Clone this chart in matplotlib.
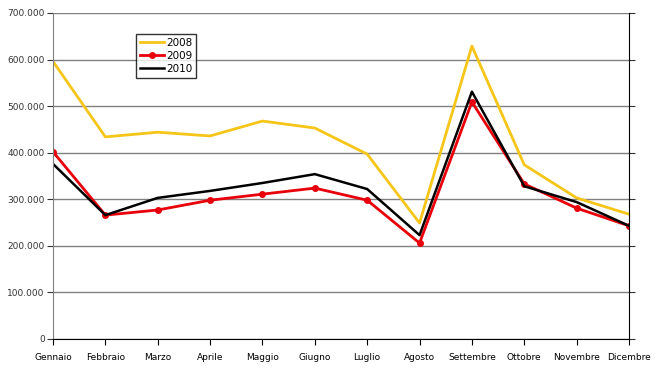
import matplotlib
matplotlib.use("Agg")
import matplotlib.pyplot as plt
from matplotlib.ticker import FuncFormatter, MultipleLocator

mesi = ["Gennaio", "Febbraio", "Marzo", "Aprile", "Maggio", "Giugno",
        "Luglio", "Agosto", "Settembre", "Ottobre", "Novembre", "Dicembre"]
v2008 = [596000, 434000, 444000, 436000, 468000, 453000,
         397000, 249000, 629000, 374000, 303000, 268000]
v2009 = [402000, 266000, 277000, 298000, 311000, 324000,
         298000, 206000, 509000, 333000, 281000, 243000]
v2010 = [376000, 266000, 303000, 318000, 335000, 354000,
         322000, 223000, 531000, 328000, 294000, 243000]

fig = plt.figure(figsize=(6.56, 3.70), dpi=100)
ax = fig.add_axes([53 / 656, 31 / 370, 576 / 656, 326 / 370])

x = range(len(mesi))
ax.plot(x, v2008, color="#f5c518", lw=2.0, label="2008")
ax.plot(x, v2009, color="#e8000b", lw=2.0, marker="o", markersize=4, label="2009")
ax.plot(x, v2010, color="black", lw=1.8, label="2010")

ax.set_xlim(0, len(mesi) - 1)
ax.set_ylim(0, 700000)
ax.yaxis.set_major_locator(MultipleLocator(100000))
ax.yaxis.set_major_formatter(FuncFormatter(lambda v, p: f"{int(v):,}".replace(",", ".")))
ax.set_xticks(list(x))
ax.set_xticklabels(mesi)
ax.tick_params(axis="both", labelsize=6.5, length=4, color="black", pad=2)
ax.tick_params(axis="x", pad=6)
ax.tick_params(axis="y", left=True, right=True, direction="out", colors="#333333")

ax.grid(axis="y", color="#808080", lw=1)
ax.set_axisbelow(True)
ax.spines["top"].set_visible(False)
ax.spines["left"].set_color("#808080")
ax.spines["right"].set_color("black")
ax.spines["bottom"].set_color("black")

leg = ax.legend(loc="upper left", bbox_to_anchor=(78 / 576, 1 - 16 / 326),
                fontsize=7.5, frameon=True, fancybox=False, edgecolor="black",
                borderpad=0.35, labelspacing=0.3, handlelength=2.3, handletextpad=0.2)
leg.get_frame().set_linewidth(1)

fig.savefig("out.png", dpi=100)
